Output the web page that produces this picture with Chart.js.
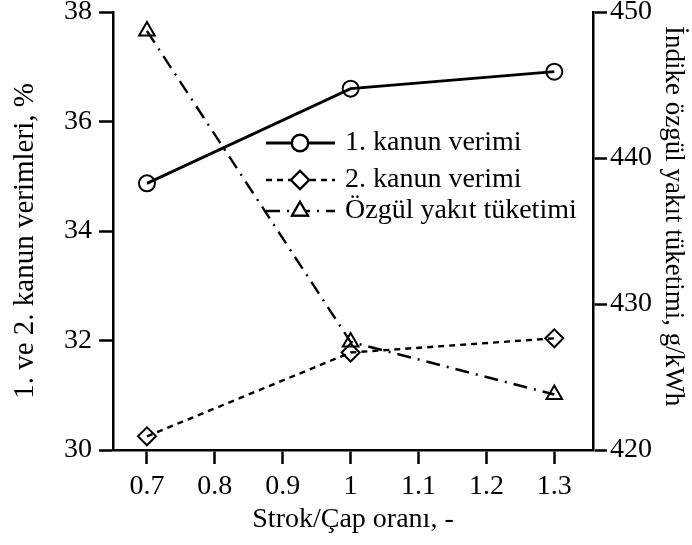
<!DOCTYPE html>
<html><head><meta charset="utf-8">
<script src="https://cdn.jsdelivr.net/npm/chart.js@4.4.0/dist/chart.umd.min.js"></script>
<style>html,body{margin:0;padding:0;background:#fff;}#wrap{width:692px;height:545px;}</style>
</head><body><div id="wrap"><canvas id="c" width="692" height="545"></canvas></div>
<script>
const strokeBore = [0.7, 1.0, 1.3];
const firstLawEff = [34.87, 36.60, 36.91];
const secondLawEff = [30.25, 31.78, 32.04];
const bsfc = [448.7, 427.4, 423.8];
const xTicks = [0.7, 0.8, 0.9, 1.0, 1.1, 1.2, 1.3];
const leftTicks = [30, 32, 34, 36, 38];
const rightTicks = [420, 430, 440, 450];
const seriesNames = ['1. kanun verimi', '2. kanun verimi', 'Özgül yakıt tüketimi'];
const xTitle = 'Strok/Çap oranı, -';
const leftTitle = '1. ve 2. kanun verimleri, %';
const rightTitle = 'İndike özgül yakıt tüketimi, g/kWh';

const FONT = '"Liberation Serif", "Times New Roman", serif';
const pts = arr => strokeBore.map((x, i) => ({x: x, y: arr[i]}));

const legendPlugin = {
  id: 'customLegend',
  afterDraw(chart) {
    const ctx = chart.ctx;
    const rows = [143, 180, 211];
    chart.data.datasets.forEach((ds, i) => {
      const y = rows[i];
      ctx.save();
      ctx.strokeStyle = '#000';
      ctx.lineWidth = ds.borderWidth;
      ctx.setLineDash(ds.borderDash || []);
      ctx.beginPath();
      ctx.moveTo(266, y);
      ctx.lineTo(335, y);
      ctx.stroke();
      ctx.setLineDash([]);
      ctx.fillStyle = '#fff';
      ctx.beginPath();
      Chart.helpers.drawPoint(ctx, {pointStyle: ds.pointStyle, radius: ds.pointRadius, borderWidth: ds.pointBorderWidth, rotation: 0}, 300, y);
      ctx.fill();
      ctx.lineWidth = ds.pointBorderWidth;
      ctx.stroke();
      ctx.fillStyle = '#000';
      ctx.font = '28px ' + FONT;
      ctx.textBaseline = 'middle';
      ctx.textAlign = 'left';
      ctx.fillText(ds.label, 345, y);
      ctx.restore();
    });
    // axis titles (y)
    ctx.save();
    ctx.fillStyle = '#000';
    ctx.font = '27px ' + FONT;
    ctx.translate(673, 26);
    ctx.rotate(Math.PI / 2);
    ctx.textAlign = 'left';
    ctx.textBaseline = 'middle';
    ctx.fillText(rightTitle, 0, 0);
    ctx.restore();
    ctx.save();
    ctx.fillStyle = '#000';
    ctx.font = '29px ' + FONT;
    ctx.translate(25, 241);
    ctx.rotate(-Math.PI / 2);
    ctx.textAlign = 'center';
    ctx.textBaseline = 'middle';
    ctx.fillText(leftTitle, 0, 0);
    ctx.restore();
  }
};

const gridCommon = {display: true, drawOnChartArea: false, drawTicks: true, tickLength: 14, tickWidth: 2.5, tickColor: '#000', color: '#000'};
const borderCommon = {display: true, color: '#000', width: 2.5};
const noPad = s => { s.paddingTop = 0; s.paddingBottom = 0; s.paddingLeft = 0; s.paddingRight = 0; };

new Chart(document.getElementById('c'), {
  type: 'line',
  data: {
    datasets: [
      {label: seriesNames[0], data: pts(firstLawEff), yAxisID: 'y', borderColor: '#000', borderWidth: 2.8,
       pointStyle: 'circle', pointRadius: 8, pointBorderWidth: 2, pointBackgroundColor: 'rgba(0,0,0,0)', pointBorderColor: '#000', clip: false},
      {label: seriesNames[1], data: pts(secondLawEff), yAxisID: 'y', borderColor: '#000', borderWidth: 2.4, borderDash: [6, 5],
       pointStyle: 'rectRot', pointRadius: 9, pointBorderWidth: 2, pointBackgroundColor: 'rgba(0,0,0,0)', pointBorderColor: '#000', clip: false},
      {label: seriesNames[2], data: pts(bsfc), yAxisID: 'y1', borderColor: '#000', borderWidth: 2.4, borderDash: [14, 7, 2, 7],
       pointStyle: 'triangle', pointRadius: 9, pointBorderWidth: 2, pointBackgroundColor: 'rgba(0,0,0,0)', pointBorderColor: '#000', clip: false}
    ]
  },
  options: {
    responsive: false,
    animation: false,
    layout: {padding: {top: 12, left: 0, right: 0, bottom: 0}},
    plugins: {legend: {display: false}, tooltip: {enabled: false}},
    scales: {
      x: {
        type: 'linear', position: 'bottom', min: 0.65, max: 1.357,
        afterBuildTicks: s => { s.ticks = xTicks.map(v => ({value: v})); },
        afterFit: s => { s.height = 95; noPad(s); },
        ticks: {color: '#000', font: {family: FONT, size: 28}, padding: 6, maxRotation: 0,
                callback: v => String(Math.round(v * 10) / 10)},
        grid: gridCommon, border: borderCommon,
        title: {display: true, text: xTitle, color: '#000', font: {family: FONT, size: 28}, padding: {top: 0, bottom: 9}}
      },
      y: {
        type: 'linear', position: 'left', min: 30, max: 38,
        afterBuildTicks: s => { s.ticks = leftTicks.map(v => ({value: v})); },
        afterFit: s => { s.width = 113; noPad(s); },
        ticks: {color: '#000', font: {family: FONT, size: 28}, padding: 7},
        grid: gridCommon, border: borderCommon,
        title: {display: false}
      },
      y1: {
        type: 'linear', position: 'right', min: 420, max: 450,
        afterBuildTicks: s => { s.ticks = rightTicks.map(v => ({value: v})); },
        afterFit: s => { s.width = 99; noPad(s); },
        ticks: {color: '#000', font: {family: FONT, size: 28}, padding: 3},
        grid: gridCommon, border: borderCommon,
        title: {display: false}
      }
    }
  },
  plugins: [legendPlugin]
});
</script></body></html>
